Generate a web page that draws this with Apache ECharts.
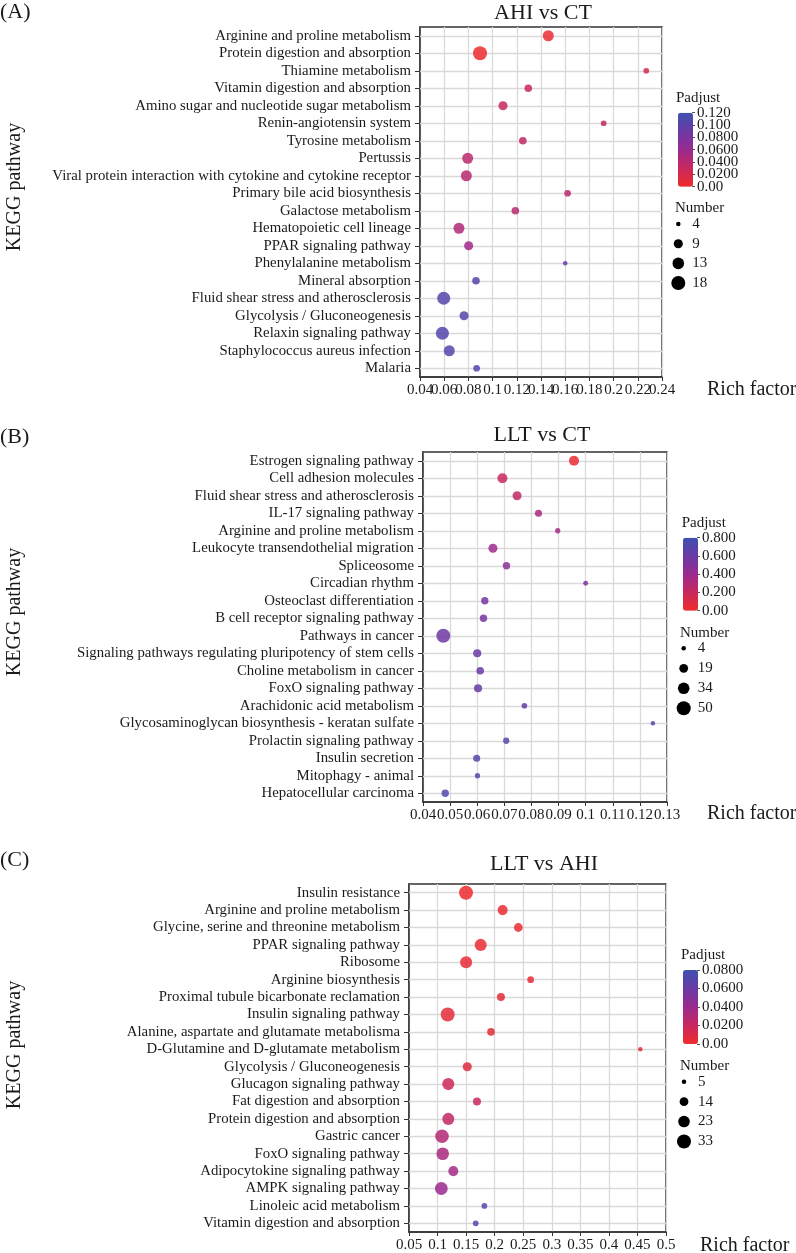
<!DOCTYPE html>
<html>
<head>
<meta charset="utf-8">
<script src="https://cdn.jsdelivr.net/npm/echarts@6/dist/echarts.min.js"></script>
<style>
html,body{margin:0;padding:0;background:#fff;}
#chart{width:796px;height:1253px;}
</style>
</head>
<body>
<div id="chart"></div>
<script>
// ---------------- DATA ----------------
const catsA = ["Arginine and proline metabolism","Protein digestion and absorption","Thiamine metabolism","Vitamin digestion and absorption","Amino sugar and nucleotide sugar metabolism","Renin-angiotensin system","Tyrosine metabolism","Pertussis","Viral protein interaction with cytokine and cytokine receptor","Primary bile acid biosynthesis","Galactose metabolism","Hematopoietic cell lineage","PPAR signaling pathway","Phenylalanine metabolism","Mineral absorption","Fluid shear stress and atherosclerosis","Glycolysis / Gluconeogenesis","Relaxin signaling pathway","Staphylococcus aureus infection","Malaria"];
const richA = [0.146,0.0896,0.227,0.1295,0.1086,0.1918,0.125,0.0794,0.0783,0.162,0.1188,0.0722,0.0802,0.160,0.0863,0.0596,0.0764,0.0585,0.0642,0.0868];
const numA  = [12,18,5,7,9,5,7,12,12,6,7,12,9,4,7,16,9,16,12,6];
const padjA = [0.003,0.002,0.022,0.028,0.031,0.034,0.035,0.039,0.040,0.041,0.042,0.046,0.056,0.090,0.101,0.104,0.105,0.106,0.107,0.108];
const xLabelsA = ["0.04","0.06","0.08","0.1","0.12","0.14","0.16","0.18","0.2","0.22","0.24"];
const padjLabelsA = ["0.00","0.0200","0.0400","0.0600","0.0800","0.100","0.120"];
const numLegendA = [4,9,13,18];

const catsB = ["Estrogen signaling pathway","Cell adhesion molecules","Fluid shear stress and atherosclerosis","IL-17 signaling pathway","Arginine and proline metabolism","Leukocyte transendothelial migration","Spliceosome","Circadian rhythm","Osteoclast differentiation","B cell receptor signaling pathway","Pathways in cancer","Signaling pathways regulating pluripotency of stem cells","Choline metabolism in cancer","FoxO signaling pathway","Arachidonic acid metabolism","Glycosaminoglycan biosynthesis - keratan sulfate","Prolactin signaling pathway","Insulin secretion","Mitophagy - animal","Hepatocellular carcinoma"];
const richB = [0.0957,0.0693,0.0747,0.0826,0.0897,0.0658,0.0708,0.100,0.0628,0.0623,0.0475,0.0600,0.0611,0.0603,0.0774,0.1248,0.0707,0.0598,0.0601,0.0482];
const numB  = [25,25,20,12,6,20,13,5,13,13,50,16,14,16,7,4,9,12,6,13];
const padjB = [0.03,0.20,0.23,0.33,0.36,0.39,0.47,0.51,0.55,0.56,0.58,0.60,0.61,0.61,0.65,0.67,0.68,0.70,0.71,0.72];
const xLabelsB = ["0.04","0.05","0.06","0.07","0.08","0.09","0.1","0.11","0.12","0.13"];
const padjLabelsB = ["0.00","0.200","0.400","0.600","0.800"];
const numLegendB = [4,19,34,50];

const catsC = ["Insulin resistance","Arginine and proline metabolism","Glycine, serine and threonine metabolism","PPAR signaling pathway","Ribosome","Arginine biosynthesis","Proximal tubule bicarbonate reclamation","Insulin signaling pathway","Alanine, aspartate and glutamate metabolisma","D-Glutamine and D-glutamate metabolism","Glycolysis / Gluconeogenesis","Glucagon signaling pathway","Fat digestion and absorption","Protein digestion and absorption","Gastric cancer","FoxO signaling pathway","Adipocytokine signaling pathway","AMPK signaling pathway","Linoleic acid metabolism","Vitamin digestion and absorption"];
const richC = [0.1498,0.214,0.2414,0.1755,0.150,0.263,0.211,0.1177,0.1936,0.455,0.152,0.1188,0.169,0.1188,0.1078,0.109,0.1276,0.1066,0.182,0.1668];
const numC  = [33,18,14,25,25,9,12,33,11,5,15,25,12,25,31,27,18,28,7,7];
const padjC = [0.001,0.002,0.003,0.003,0.004,0.004,0.005,0.005,0.006,0.007,0.009,0.019,0.021,0.023,0.030,0.033,0.036,0.040,0.068,0.070];
const xLabelsC = ["0.05","0.1","0.15","0.2","0.25","0.3","0.35","0.4","0.45","0.5"];
const padjLabelsC = ["0.00","0.0200","0.0400","0.0600","0.0800"];
const numLegendC = [5,14,23,33];

// ---------------- LAYOUT / STYLE ----------------
const FONT = '"Liberation Serif","Times New Roman",serif';
const TXT = '#1a1a1a';
const GRAD = ['#ee2c2c','#c9285d','#9a2a8f','#6a3aa5','#3f51b0'];
const D_MIN = 4.5, D_MAX = 14;

const panels = [
  {cats:catsA, rich:richA, num:numA, padj:padjA, xMin:0.04, xMax:0.24, xInt:0.02, xLabels:xLabelsA,
   pMax:0.12, pInt:0.02, pLabels:padjLabelsA, nLegend:numLegendA, title:'AHI vs CT', tag:'(A)',
   grid:{left:420, top:27, width:242, height:350}, bar:{left:678, top:112.7, h:74},
   padjText:[676,97.7], numText:[675,208.3], leg:{cx:678.3, top:214.2, h:78.7},
   titleXY:[543,13], tagY:12, keggY:187, richXY:[707,390]},
  {cats:catsB, rich:richB, num:numB, padj:padjB, xMin:0.04, xMax:0.13, xInt:0.01, xLabels:xLabelsB,
   pMax:0.8, pInt:0.2, pLabels:padjLabelsB, nLegend:numLegendB, title:'LLT vs CT', tag:'(B)',
   grid:{left:423, top:452, width:244, height:350}, bar:{left:683, top:537.7, h:73},
   padjText:[681.7,522.7], numText:[680,633.3], leg:{cx:683.7, top:638.3, h:80},
   titleXY:[542,435], tagY:437, keggY:612, richXY:[707,814]},
  {cats:catsC, rich:richC, num:numC, padj:padjC, xMin:0.05, xMax:0.5, xInt:0.05, xLabels:xLabelsC,
   pMax:0.08, pInt:0.02, pLabels:padjLabelsC, nLegend:numLegendC, title:'LLT vs AHI', tag:'(C)',
   grid:{left:409, top:884, width:257, height:352}, bar:{left:683, top:970, h:74},
   padjText:[681,955], numText:[680,1066], leg:{cx:684, top:1071.8, h:79.6},
   titleXY:[544,864], tagY:860, keggY:1045, richXY:[700,1246]}
];

function sizeFn(n, leg){
  const lo = Math.min.apply(null, leg), hi = Math.max.apply(null, leg);
  const t = (n - lo) / (hi - lo);
  return Math.sqrt(D_MIN*D_MIN + t*(D_MAX*D_MAX - D_MIN*D_MIN));
}
// labels split into two interleaved axes so none is dropped by overlap handling
const pick = (arr, parity) => (v, idx) => (idx % 2 === parity ? arr[idx] : '');

const grid = [], xAxis = [], yAxis = [], series = [], visualMap = [], graphic = [];

// main plots  (grid i: xAxis 2i primary, 2i+1 label twin ; yAxis i)
panels.forEach((p, i) => {
  grid.push({left:p.grid.left, top:p.grid.top, width:p.grid.width, height:p.grid.height,
    show:true, borderColor:'#333', borderWidth:1.5, backgroundColor:'transparent'});
  const base = {type:'value', gridIndex:i, min:p.xMin, max:p.xMax, interval:p.xInt, position:'bottom'};
  xAxis.push(Object.assign({}, base, {
    axisLine:{show:true, onZero:false, lineStyle:{color:'#333', width:1.5}},
    axisTick:{show:true, length:4, lineStyle:{color:'#333', width:1}},
    axisLabel:{fontFamily:FONT, fontSize:15, color:TXT, margin:6, showMinLabel:true, showMaxLabel:true,
      hideOverlap:false, interval:0, formatter:pick(p.xLabels, 0)},
    splitLine:{show:true, lineStyle:{color:'#d9d9d9', width:1.3}}}));
  xAxis.push(Object.assign({}, base, {
    axisLine:{show:false, onZero:false}, axisTick:{show:false}, splitLine:{show:false},
    axisLabel:{fontFamily:FONT, fontSize:15, color:TXT, margin:6, showMinLabel:true, showMaxLabel:true,
      hideOverlap:false, interval:0, formatter:pick(p.xLabels, 1)}}));
  yAxis.push({type:'category', gridIndex:i, data:p.cats, inverse:true, boundaryGap:true,
    axisLine:{show:true, lineStyle:{color:'#333', width:1.5}},
    axisTick:{show:true, alignWithLabel:true, length:5, lineStyle:{color:'#333', width:1}},
    axisLabel:{fontFamily:FONT, fontSize:14.8, color:TXT, margin:9, interval:0, hideOverlap:false},
    splitLine:{show:false}});
});
// colorbar tick axes (grid 3+i: xAxis 6+i ; yAxis 3+2i, 4+2i)
panels.forEach((p, i) => {
  grid.push({left:p.bar.left + 14, top:p.bar.top, width:1, height:p.bar.h, show:false});
  xAxis.push({type:'value', gridIndex:3+i, show:false, min:0, max:1});
  [0, 1].forEach(par => {
    yAxis.push({type:'value', gridIndex:3+i, min:0, max:p.pMax, interval:p.pInt, position:'right',
      axisLine:{show:false}, splitLine:{show:false},
      axisTick:{show:par === 0, length:3, lineStyle:{color:'#555', width:1}},
      axisLabel:{fontFamily:FONT, fontSize:15, color:TXT, margin:4, showMinLabel:true, showMaxLabel:true,
        hideOverlap:false, interval:0, formatter:pick(p.pLabels, par)}});
  });
});
// size legend axes (grid 6+i: xAxis 9+i ; yAxis 9+i)
panels.forEach((p, i) => {
  grid.push({left:p.leg.cx - 10, top:p.leg.top, width:20, height:p.leg.h, show:false});
  xAxis.push({type:'value', gridIndex:6+i, show:false, min:-1, max:1});
  yAxis.push({type:'category', gridIndex:6+i, inverse:true, position:'right',
    data:p.nLegend.map(String),
    axisLine:{show:false}, axisTick:{show:false}, splitLine:{show:false},
    axisLabel:{fontFamily:FONT, fontSize:15, color:TXT, margin:4, interval:0}});
});

// series: main scatter (own layer, above grid lines)
panels.forEach((p, i) => {
  series.push({type:'scatter', xAxisIndex:2*i, yAxisIndex:i, zlevel:1, z:3,
    data:p.cats.map((c, k) => [p.rich[k], c, p.num[k], p.padj[k]]),
    symbolSize:(val) => sizeFn(val[2], p.nLegend),
    itemStyle:{opacity:0.85, borderWidth:0}, silent:true});
});
// horizontal grid lines at category centres
panels.forEach((p, i) => {
  series.push({type:'scatter', xAxisIndex:2*i, yAxisIndex:i, zlevel:0, z:1, data:[],
    markLine:{silent:true, symbol:'none', label:{show:false}, animation:false,
      lineStyle:{color:'#d9d9d9', width:1.3, type:'solid'},
      data:p.cats.map((c, k) => ({yAxis:k}))}});
});
// size legend
panels.forEach((p, i) => {
  series.push({type:'scatter', xAxisIndex:9+i, yAxisIndex:9+i, z:3,
    data:p.nLegend.map(n => [0, String(n), n]),
    symbolSize:(val) => sizeFn(val[2], p.nLegend),
    itemStyle:{color:'#000', opacity:1}, silent:true});
});

// visual maps (colour bars)
panels.forEach((p, i) => {
  visualMap.push({type:'continuous', seriesIndex:i, dimension:3, min:0, max:p.pMax,
    inRange:{color:GRAD}, show:true, calculable:false, realtime:false, hoverLink:false,
    itemWidth:15, itemHeight:p.bar.h, left:p.bar.left, top:p.bar.top, padding:0,
    text:null, textStyle:{fontSize:0}, orient:'vertical'});
});

// texts
panels.forEach((p) => {
  graphic.push({type:'text', x:p.titleXY[0], y:p.titleXY[1], silent:true,
    style:{text:p.title, font:'22px ' + FONT, fill:TXT, textAlign:'center', textVerticalAlign:'middle'}});
  graphic.push({type:'text', x:0, y:p.tagY, silent:true,
    style:{text:p.tag, font:'22px ' + FONT, fill:TXT, textAlign:'left', textVerticalAlign:'middle'}});
  graphic.push({type:'text', x:15, y:p.keggY, rotation:Math.PI/2, silent:true,
    style:{text:'KEGG pathway', font:'20px ' + FONT, fill:TXT, textAlign:'center', textVerticalAlign:'middle'}});
  graphic.push({type:'text', x:p.richXY[0], y:p.richXY[1], silent:true,
    style:{text:'Rich factor', font:'20px ' + FONT, fill:TXT, textAlign:'left', textVerticalAlign:'middle'}});
  graphic.push({type:'text', x:p.padjText[0], y:p.padjText[1], silent:true,
    style:{text:'Padjust', font:'15px ' + FONT, fill:TXT, textAlign:'left', textVerticalAlign:'middle'}});
  graphic.push({type:'text', x:p.numText[0], y:p.numText[1], silent:true,
    style:{text:'Number', font:'15px ' + FONT, fill:TXT, textAlign:'left', textVerticalAlign:'middle'}});
});

const chart = echarts.init(document.getElementById('chart'), null, {renderer:'canvas'});
chart.setOption({
  animation:false,
  backgroundColor:'#ffffff',
  textStyle:{fontFamily:FONT},
  grid, xAxis, yAxis, series, visualMap, graphic
});
</script>
</body>
</html>
